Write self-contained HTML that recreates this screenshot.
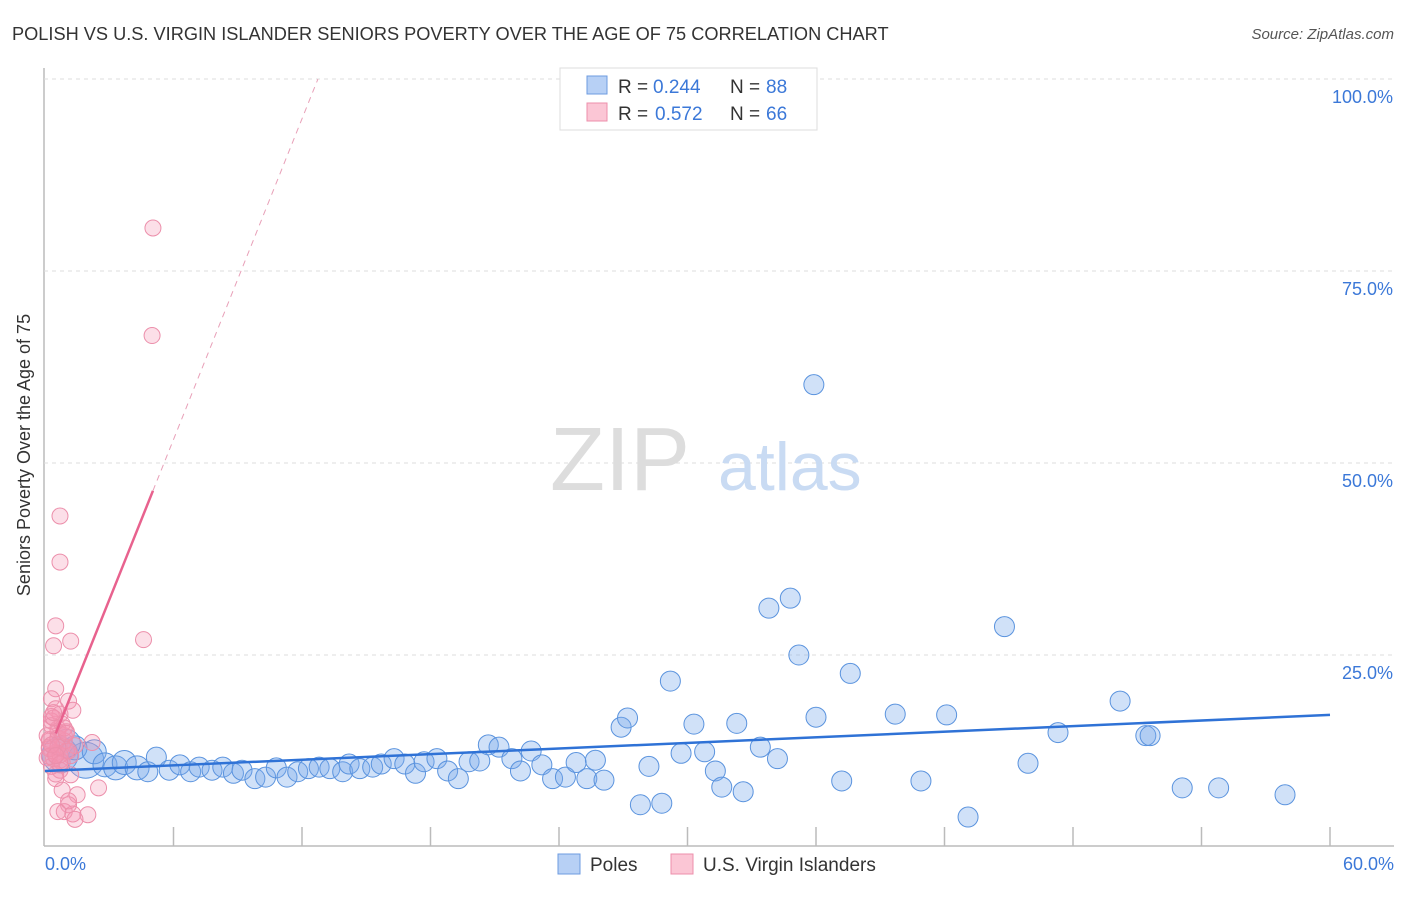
<!DOCTYPE html>
<html><head><meta charset="utf-8"><style>
body{margin:0;background:#fff;font-family:"Liberation Sans",sans-serif;}
svg text{font-family:"Liberation Sans",sans-serif;}
</style></head><body>
<svg width="1406" height="892" xmlns="http://www.w3.org/2000/svg">
<text x="12" y="40" font-size="18.2" fill="#333">POLISH VS U.S. VIRGIN ISLANDER SENIORS POVERTY OVER THE AGE OF 75 CORRELATION CHART</text>
<text x="1394" y="39" font-size="15" fill="#555" text-anchor="end" font-style="italic">Source: ZipAtlas.com</text>
<g id="grid"></g>
<text x="690" y="490" font-size="90" fill="#ddd" text-anchor="end" font-family="Liberation Serif">ZIP</text>
<text x="718" y="490" font-size="68" fill="#c9dbf3">atlas</text>
<g id="pts"></g>
<g id="lines"></g>
<text x="30" y="455" font-size="18" fill="#333" text-anchor="middle" transform="rotate(-90 30 455)">Seniors Poverty Over the Age of 75</text>
<text x="45" y="870" font-size="18" fill="#3b78d8">0.0%</text>
<text x="1394" y="870" font-size="18" fill="#3b78d8" text-anchor="end">60.0%</text>
<g>
<rect x="560" y="68" width="257" height="62" fill="#fff" stroke="#ddd"/>
<rect x="587" y="76" width="20" height="18" fill="#b7d0f5" stroke="#6d9be0"/>
<rect x="587" y="103" width="20" height="18" fill="#fbc6d5" stroke="#ec8fab"/>
<text x="618" y="93" font-size="19" fill="#333">R =</text>
<text x="653" y="93" font-size="19" fill="#3b78d8">0.244</text>
<text x="730" y="93" font-size="19" fill="#333">N =</text>
<text x="766" y="93" font-size="19" fill="#3b78d8">88</text>
<text x="618" y="120" font-size="19" fill="#333">R =</text>
<text x="655" y="120" font-size="19" fill="#3b78d8">0.572</text>
<text x="730" y="120" font-size="19" fill="#333">N =</text>
<text x="766" y="120" font-size="19" fill="#3b78d8">66</text>
</g>
<g>
<rect x="558" y="854" width="22" height="20" fill="#b7d0f5" stroke="#6d9be0"/>
<text x="590" y="871" font-size="19" fill="#333">Poles</text>
<rect x="671" y="854" width="22" height="20" fill="#fbc6d5" stroke="#ec8fab"/>
<text x="703" y="871" font-size="19" fill="#333">U.S. Virgin Islanders</text>
</g>
</svg>
<script>
const yTicks=[25,50,75,100];
const yTickLabels=["25.0%","50.0%","75.0%","100.0%"];
const xTicks=[6,12,18,24,30,36,42,48,54,60];
const polesX=[0.7,1.9,1.4,2.3,2.8,3.3,3.7,4.3,4.8,5.2,5.8,6.3,6.8,7.2,7.8,8.3,8.8,9.2,9.8,10.3,10.8,11.3,11.8,12.3,12.8,13.3,13.9,14.2,14.7,15.3,15.7,16.3,16.8,17.3,17.7,18.3,18.8,19.3,19.8,20.3,20.7,21.2,21.8,22.2,22.7,23.2,23.7,24.3,24.8,25.3,25.7,26.1,26.9,27.2,27.8,28.2,28.8,29.2,29.7,30.3,30.8,31.3,31.6,32.3,32.6,33.4,33.8,34.2,34.8,35.2,35.9,36.0,37.2,37.6,39.7,40.9,42.1,43.1,44.8,45.9,47.3,50.2,51.4,51.6,53.1,54.8,57.9,1.0];
const polesY=[12.0,11.3,12.9,12.4,10.7,10.3,11.0,10.3,9.8,11.7,10.0,10.7,9.8,10.4,10.0,10.4,9.6,10.0,8.9,9.1,10.3,9.1,9.8,10.2,10.4,10.2,9.8,10.8,10.2,10.4,10.8,11.5,10.8,9.6,11.1,11.5,9.9,8.9,11.1,11.2,13.3,13.0,11.5,9.9,12.5,10.7,8.9,9.1,11.0,8.9,11.3,8.7,15.6,16.8,5.5,10.5,5.7,21.6,12.2,16.0,12.4,9.9,7.8,16.1,7.2,13.0,31.1,11.5,32.4,25.0,60.2,16.9,8.6,22.6,17.3,8.6,17.2,3.9,28.7,10.9,14.9,19.0,14.5,14.5,7.7,7.7,6.8,13.5];
const polesR=[18,18,12,12,12,12,12,12,10,10,10,10,10,10,10,10,10,10,10,10,10,10,10,10,10,10,10,10,10,10,10,10,10,10,10,10,10,10,10,10,10,10,10,10,10,10,10,10,10,10,10,10,10,10,10,10,10,10,10,10,10,10,10,10,10,10,10,10,10,10,10,10,10,10,10,10,10,10,10,10,10,10,10,10,10,10,10,14];
const vX=[5.04,5.0,0.7,0.7,0.5,1.2,0.4,4.6,0.5,1.1,0.3,0.5,0.7,0.3,0.6,0.9,0.2,0.8,0.5,1.2,0.1,0.7,1.4,2.2,0.7,0.5,1.2,0.8,1.5,1.1,2.5,0.9,1.3,0.6,2.0,1.4,1.1,0.2,0.6,0.8,0.3,1.0,0.2,0.5,0.1,0.4,0.9,1.3,0.3,0.6,0.2,0.8,1.0,0.4,0.7,0.3,0.5,1.1,0.2,0.6,0.9,0.4,0.7,1.0,0.3,0.5];
const vY=[80.6,66.6,43.1,37.1,28.8,26.8,26.2,27.0,20.6,19.0,19.3,18.0,17.3,16.4,15.4,14.5,13.8,13.2,12.3,11.9,11.6,11.3,13.2,13.6,10.0,8.9,9.4,7.4,6.8,5.5,7.7,4.6,4.3,4.6,4.2,3.6,6.0,14.0,15.0,16.0,17.0,12.5,13.0,12.0,14.5,11.5,13.8,17.8,15.8,14.2,12.8,11.0,15.0,16.8,12.0,10.5,9.5,12.5,11.8,13.0,15.5,17.5,10.8,14.8,13.3,11.9];
const X0=45,X1=1330,Y0=847,YS=7.68;
function sx(v){return X0+(X1-X0)*v/60;}
function sy(v){return Y0-v*YS;}
const NS="http://www.w3.org/2000/svg";
function mk(t,a,p){const e=document.createElementNS(NS,t);for(const k in a)e.setAttribute(k,a[k]);p.appendChild(e);return e;}
const grid=document.getElementById('grid');
const ax=mk('line',{x1:44,y1:68,x2:44,y2:846,stroke:'#bbb','stroke-width':1.5},grid);


const bx=mk('line',{x1:44,y1:846,x2:1394,y2:846,stroke:'#bbb','stroke-width':1.5},grid);


yTicks.forEach((v,i)=>{
 const g=mk('line',{x1:44,y1:sy(v),x2:1394,y2:sy(v),stroke:'#ddd','stroke-dasharray':'4 4'},grid);
 
 
 const t=mk('text',{x:1393,y:sy(v)+24,'font-size':18,fill:'#3b78d8','text-anchor':'end'},grid);
 t.textContent=yTickLabels[i];
 
 
});
xTicks.forEach(v=>{
 const l=mk('line',{x1:sx(v),y1:827,x2:sx(v),y2:846,stroke:'#bbb','stroke-width':1.5},grid);
 
 
});
const pts=document.getElementById('pts');
polesX.forEach((v,i)=>{
 const c=mk('circle',{cx:sx(v),cy:sy(polesY[i]),r:polesR[i]||10,fill:'rgba(120,170,235,0.35)',stroke:'#5a93de','stroke-width':1},pts);
 
 
});
vX.forEach((v,i)=>{
 const c=mk('circle',{cx:sx(v),cy:sy(vY[i]),r:8,fill:'rgba(245,150,180,0.3)',stroke:'#ec8fab','stroke-width':1},pts);
 
 
});
const lines=document.getElementById('lines');
const bA=9.9,bB=(17.2-9.9)/60;
const bl=mk('line',{x1:sx(0),y1:sy(bA),x2:sx(60),y2:sy(bA+bB*60),stroke:'#2f72d6','stroke-width':2.5},lines);


const pA=11.3,pB=6.96;
const pl=mk('line',{x1:sx(0.5),y1:sy(pA+pB*0.5),x2:sx(5.04),y2:sy(pA+pB*5.04),stroke:'#e8628e','stroke-width':2.5},lines);


const pd=mk('line',{x1:sx(5.04),y1:sy(pA+pB*5.04),x2:sx((100-pA)/pB),y2:sy(100),stroke:'#e8a0b8','stroke-width':1,'stroke-dasharray':'6 5'},lines);


</script>
</body></html>
